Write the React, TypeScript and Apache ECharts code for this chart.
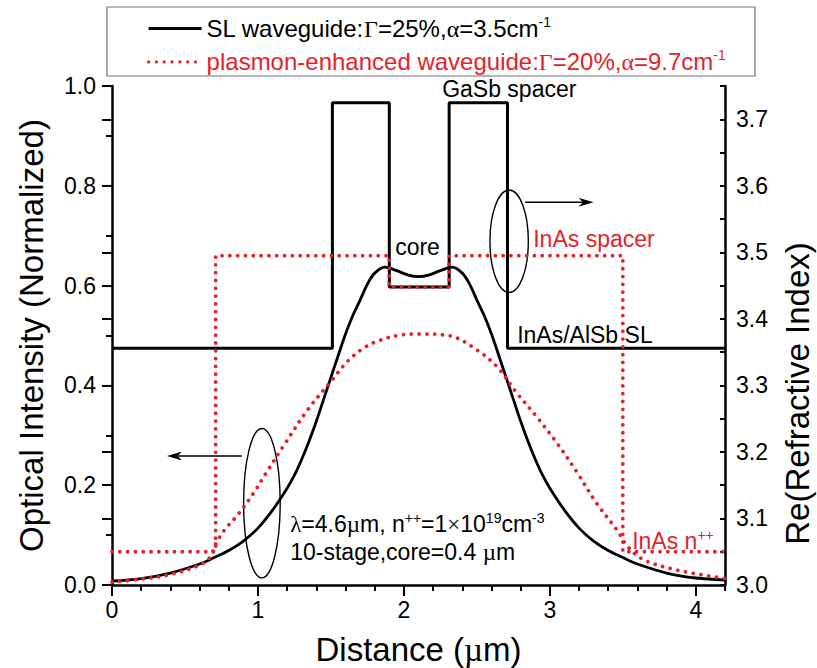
import React, { useEffect, useRef } from "react";
import * as echarts from "echarts";

// ---- Mode intensity profiles (normalized), position across the stack in µm ----
const slDistance = [0, 0.2, 0.4, 0.6, 0.7, 0.8, 0.9, 1.0, 1.1, 1.2, 1.25, 1.3, 1.35, 1.4, 1.45, 1.5, 1.55, 1.6, 1.65, 1.7, 1.75, 1.8, 1.87, 1.95, 2.03, 2.1, 2.17, 2.25, 2.33, 2.4, 2.45, 2.5, 2.55, 2.6, 2.65, 2.7, 2.75, 2.8, 2.85, 2.9, 2.95, 3.0, 3.1, 3.2, 3.3, 3.4, 3.5, 3.6, 3.8, 4.0, 4.2];
const slIntensity = [0.008, 0.013, 0.024, 0.042, 0.055, 0.069, 0.088, 0.114, 0.150, 0.194, 0.220, 0.252, 0.288, 0.328, 0.372, 0.416, 0.46, 0.503, 0.540, 0.571, 0.603, 0.625, 0.637, 0.630, 0.621, 0.618, 0.621, 0.630, 0.637, 0.625, 0.603, 0.571, 0.540, 0.503, 0.46, 0.416, 0.372, 0.328, 0.288, 0.252, 0.220, 0.194, 0.150, 0.114, 0.088, 0.069, 0.055, 0.042, 0.024, 0.014, 0.010];

const plasmonDistance = [0, 0.2, 0.4, 0.6, 0.67, 0.71, 0.77, 0.86, 0.97, 1.05, 1.18, 1.34, 1.5, 1.61, 1.72, 1.84, 1.98, 2.11, 2.32, 2.5, 2.64, 2.77, 2.91, 3.05, 3.19, 3.32, 3.46, 3.53, 3.64, 3.87, 4.2];
const plasmonIntensity = [0.006, 0.012, 0.021, 0.040, 0.055, 0.082, 0.110, 0.140, 0.184, 0.222, 0.281, 0.351, 0.408, 0.447, 0.474, 0.491, 0.501, 0.503, 0.499, 0.471, 0.437, 0.386, 0.337, 0.284, 0.224, 0.164, 0.110, 0.078, 0.051, 0.030, 0.013];

// ---- Layer stacks: start of each layer (µm) and its real refractive index ----
const slLayerStart = [0, 1.51, 1.9, 2.31, 2.71];
const slLayerIndex = [3.356, 3.725, 3.448, 3.725, 3.356];
const plasmonLayerStart = [0, 0.71, 1.9, 2.31, 3.5];
const plasmonLayerIndex = [3.05, 3.495, 3.448, 3.495, 3.05];
const stackEnd = 4.2;

// ---- Axis ticks ----
const distanceLabels = [0, 1, 2, 3, 4];
const indexLabels = [3.0, 3.1, 3.2, 3.3, 3.4, 3.5, 3.6, 3.7];

const SL_NAME = "SL waveguide:Γ=25%,α=3.5cm⁻¹";
const PL_NAME = "plasmon-enhanced waveguide:Γ=20%,α=9.7cm⁻¹";

const FONT = '"Liberation Sans", Arial, Helvetica, sans-serif';
const SERIF = '"Liberation Serif", "Times New Roman", serif';
const RED = "#e3232c";
const INK = "#000";

const GREEK = "ΓαλµμΜ×";
const SUPER: Record<string, string> = { "⁻": "-", "⁺": "+", "⁰": "0", "¹": "1", "²": "2", "³": "3", "⁴": "4", "⁵": "5", "⁶": "6", "⁷": "7", "⁸": "8", "⁹": "9" };

// Split a label into plain / symbol / superscript runs as rich-text tokens.
function richLabel(text: string, suffix: string): string {
  let out = "";
  let cur = "";
  let kind = "";
  const flush = () => {
    if (cur) out += `{${kind}${suffix}|${cur}}`;
    cur = "";
  };
  for (const ch of text) {
    const k = SUPER[ch] !== undefined ? "s" : GREEK.includes(ch) ? "g" : "t";
    if (k !== kind) {
      flush();
      kind = k;
    }
    cur += SUPER[ch] !== undefined ? SUPER[ch] : ch;
  }
  flush();
  return out;
}

function richStyles(size: number) {
  const make = (color: string) => ({
    t: { fontSize: size, fontFamily: FONT, color, lineHeight: 27 },
    g: { fontSize: size, fontFamily: SERIF, color, lineHeight: 27 },
    s: { fontSize: 14, fontFamily: FONT, color, verticalAlign: "top", lineHeight: 12 },
  });
  const k = make(INK);
  const r = make(RED);
  return { t: k.t, g: k.g, s: k.s, tR: r.t, gR: r.g, sR: r.s };
}

function layerSteps(starts: number[], values: number[]) {
  const pts = starts.map((x, i) => [x, values[i]]);
  pts.push([stackEnd, values[values.length - 1]]);
  return pts;
}

const dotted = { type: [0.01, 7.8] as number[], cap: "round" as const, width: 3.8, color: RED };

function buildOption() {
  const tickLabel = { fontSize: 23, fontFamily: FONT, color: INK };
  return {
    animation: false,
    backgroundColor: "#fff",
    grid: { left: 112, right: 92, top: 86, bottom: 83, outerBoundsMode: "none" },
    legend: {
      left: 147,
      top: 15,
      orient: "vertical",
      padding: 0,
      itemWidth: 53,
      itemHeight: 14,
      itemGap: 6.4,
      selectedMode: false,
      itemStyle: { opacity: 0, borderWidth: 0 },
      lineStyle: { width: 3.2 },
      data: [{ name: SL_NAME }, { name: PL_NAME }],
      formatter: (name: string) => richLabel(name, name === PL_NAME ? "R" : ""),
      textStyle: { fontSize: 24, fontFamily: FONT, lineHeight: 27, rich: richStyles(24) },
    },
    xAxis: [
      {
        type: "value",
        min: 0,
        max: stackEnd,
        interval: 0.2,
        position: "bottom",
        name: "{t|Distance (}{g|µ}{t|m)}",
        nameLocation: "middle",
        nameGap: 48,
        nameMoveOverlap: false,
        nameTextStyle: {
          rich: {
            t: { fontSize: 33, fontFamily: FONT, color: INK },
            g: { fontSize: 33, fontFamily: SERIF, color: INK },
          },
        },
        axisLine: { show: true, onZero: false, lineStyle: { color: INK, width: 2.5 } },
        axisTick: { show: true, inside: false, length: 6, lineStyle: { color: INK, width: 2 } },
        axisLabel: { ...tickLabel, margin: 13, customValues: distanceLabels, formatter: (v: number) => String(Math.round(v)) },
        splitLine: { show: false },
      },
      {
        // longer ticks at whole micrometres
        type: "value",
        min: 0,
        max: stackEnd,
        position: "bottom",
        axisLine: { show: false },
        axisTick: { show: true, inside: false, length: 11, customValues: distanceLabels, lineStyle: { color: INK, width: 2 } },
        axisLabel: { show: false },
        splitLine: { show: false },
      },
    ],
    yAxis: [
      {
        type: "value",
        position: "left",
        min: 0,
        max: 1,
        interval: 0.2,
        name: "Optical Intensity (Normalized)",
        nameLocation: "middle",
        nameGap: 64,
        nameMoveOverlap: false,
        nameTextStyle: { fontSize: 33, fontFamily: FONT, color: INK },
        axisLine: { show: true, onZero: false, lineStyle: { color: INK, width: 2.5 } },
        axisTick: { show: true, inside: false, length: 10, lineStyle: { color: INK, width: 2 } },
        minorTick: { show: true, splitNumber: 2, length: 6, lineStyle: { color: INK, width: 2 } },
        axisLabel: { ...tickLabel, margin: 16, formatter: (v: number) => v.toFixed(1) },
        splitLine: { show: false },
        minorSplitLine: { show: false },
      },
      {
        type: "value",
        position: "right",
        min: 3.0,
        max: 3.75,
        interval: 0.05,
        name: "Re(Refractive Index)",
        nameLocation: "middle",
        nameRotate: 90,
        nameGap: 56,
        nameMoveOverlap: false,
        nameTextStyle: { fontSize: 33, fontFamily: FONT, color: INK, padding: [0, 116, 0, 0] },
        axisLine: { show: true, onZero: false, lineStyle: { color: INK, width: 2.5 } },
        axisTick: { show: true, inside: true, length: 5, lineStyle: { color: INK, width: 2 } },
        axisLabel: { ...tickLabel, margin: 11, customValues: indexLabels, formatter: (v: number) => v.toFixed(1) },
        splitLine: { show: false },
      },
      {
        // longer ticks at each 0.1 of refractive index
        type: "value",
        position: "right",
        min: 3.0,
        max: 3.75,
        axisLine: { show: false },
        axisTick: { show: true, inside: true, length: 10, customValues: indexLabels, lineStyle: { color: INK, width: 2 } },
        axisLabel: { show: false },
        splitLine: { show: false },
      },
    ],
    series: [
      {
        name: SL_NAME,
        type: "line",
        xAxisIndex: 0,
        yAxisIndex: 1,
        step: "end",
        symbol: "none",
        color: INK,
        lineStyle: { color: INK, width: 3 },
        data: layerSteps(slLayerStart, slLayerIndex),
      },
      {
        name: SL_NAME,
        type: "line",
        xAxisIndex: 0,
        yAxisIndex: 0,
        symbol: "none",
        smooth: 0.35,
        color: INK,
        lineStyle: { color: INK, width: 2.8 },
        data: slDistance.map((x, i) => [x, slIntensity[i]]),
      },
      {
        name: PL_NAME,
        type: "line",
        xAxisIndex: 0,
        yAxisIndex: 1,
        step: "end",
        symbol: "none",
        color: RED,
        lineStyle: dotted,
        data: layerSteps(plasmonLayerStart, plasmonLayerIndex),
      },
      {
        name: PL_NAME,
        type: "line",
        xAxisIndex: 0,
        yAxisIndex: 0,
        symbol: "none",
        smooth: 0.35,
        color: RED,
        lineStyle: dotted,
        data: plasmonDistance.map((x, i) => [x, plasmonIntensity[i]]),
      },
    ],
  };
}

type ToPx = (x: number, v: number) => number[];

function arrow(from: number[], to: number[]) {
  const dir = Math.sign(to[0] - from[0]);
  const len = 15;
  const half = 4.5;
  return [
    {
      type: "line",
      shape: { x1: from[0], y1: from[1], x2: to[0] - dir * len * 0.6, y2: to[1] },
      style: { stroke: INK, lineWidth: 1.6 },
    },
    {
      type: "polygon",
      shape: {
        points: [
          [to[0], to[1]],
          [to[0] - dir * len, to[1] - half],
          [to[0] - dir * len * 0.7, to[1]],
          [to[0] - dir * len, to[1] + half],
        ],
      },
      style: { fill: INK },
    },
  ];
}

function buildGraphics(toPx: ToPx) {
  const rich = richStyles(23);
  const label = (text: string, x: number, v: number, red = false) => {
    const p = toPx(x, v);
    return {
      type: "text",
      x: p[0],
      y: p[1],
      style: {
        text: richLabel(text, red ? "R" : ""),
        rich,
        fontSize: 23,
        fontFamily: FONT,
        fill: red ? RED : INK,
        align: "left",
        verticalAlign: "middle",
      },
    };
  };
  const ellipse = (x: number, v: number, rx: number, ry: number) => {
    const p = toPx(x, v);
    return {
      type: "ellipse",
      shape: { cx: p[0], cy: p[1], rx, ry },
      style: { fill: "none", stroke: INK, lineWidth: 1.4 },
    };
  };

  return [
    {
      type: "rect",
      shape: { x: 107, y: 7, width: 648, height: 69 },
      style: { fill: "none", stroke: "#6f6f6f", lineWidth: 1.2 },
      z: -1,
    },
    label("GaSb spacer", 2.262, 0.994),
    label("core", 1.94, 0.677),
    label("InAs spacer", 2.886, 0.693, true),
    label("InAs/AlSb SL", 2.776, 0.501),
    label("InAs n⁺⁺", 3.564, 0.088, true),
    label("λ=4.6µm, n⁺⁺=1×10¹⁹cm⁻³", 1.221, 0.122),
    label("10-stage,core=0.4 µm", 1.221, 0.066),
    ellipse(1.027, 0.164, 18.3, 74.7),
    ellipse(2.721, 0.689, 19.2, 51.2),
    ...arrow(toPx(0.89, 0.2585), toPx(0.377, 0.2585)),
    ...arrow(toPx(2.831, 0.767), toPx(3.299, 0.767)),
  ];
}

export default function App() {
  const ref = useRef<HTMLDivElement>(null);
  useEffect(() => {
    if (!ref.current) return;
    const chart = echarts.init(ref.current, null, { renderer: "svg" });
    chart.setOption(buildOption() as any);
    const toPx: ToPx = (x, v) =>
      chart.convertToPixel({ xAxisIndex: 0, yAxisIndex: 0 } as any, [x, v]) as number[];
    chart.setOption({ graphic: buildGraphics(toPx) } as any);
    return () => chart.dispose();
  }, []);
  return (
    <div
      ref={ref}
      style={{ position: "fixed", left: 0, top: 0, width: 817, height: 668, background: "#fff" }}
    />
  );
}
